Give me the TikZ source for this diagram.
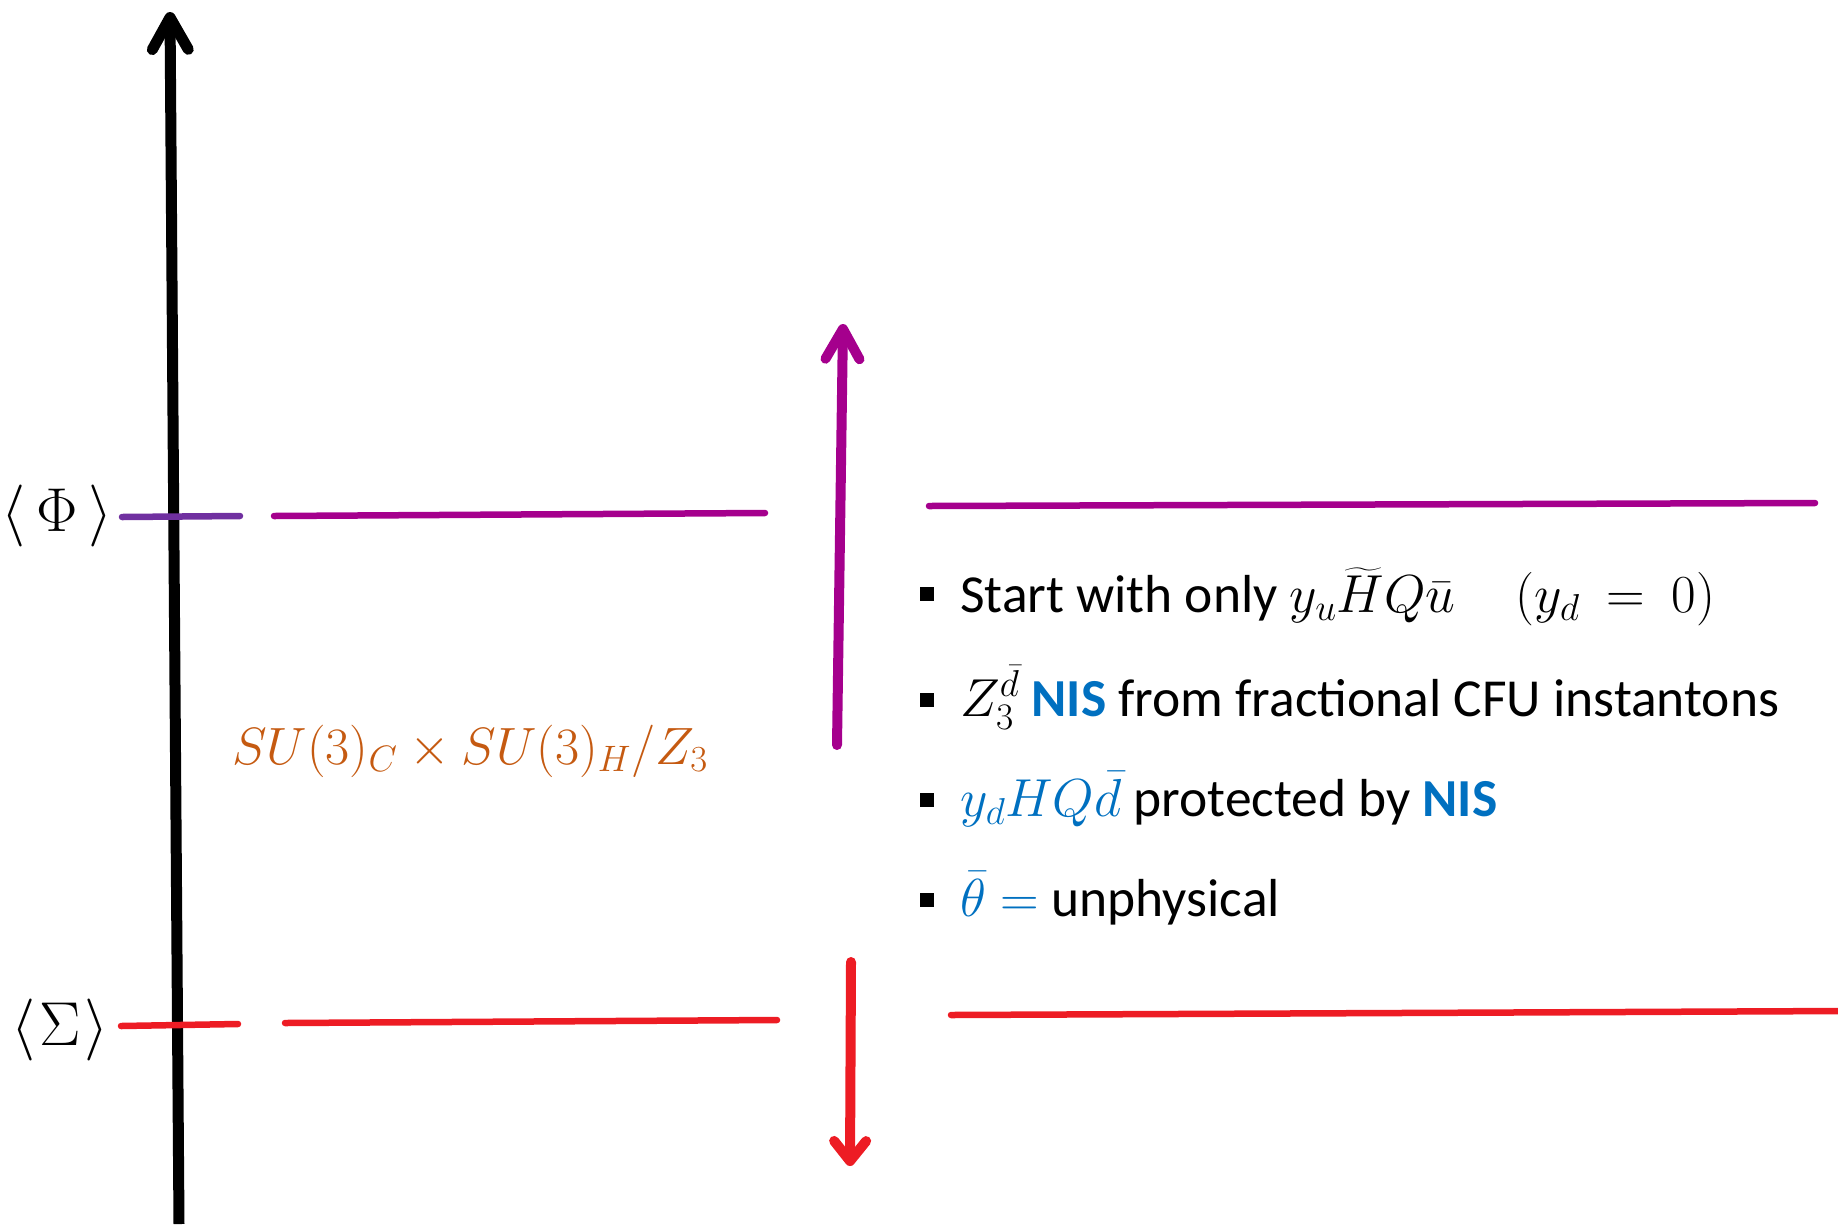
\RequirePackage{fix-cm}
\documentclass[tikz,border=0pt]{standalone}
\usepackage{amsmath}
\usepackage{fontspec}
\setmainfont{Carlito}
\usetikzlibrary{arrows.meta}
\definecolor{phipurple}{HTML}{7030A0}
\definecolor{magline}{HTML}{A5008D}
\definecolor{sred}{HTML}{ED1C24}
\definecolor{nisblue}{HTML}{0070C0}
\definecolor{suorange}{HTML}{C55A11}
\tikzset{
  level/.style={line width=6.5pt, line cap=round},
  bigarrow/.style={line width=10pt, line cap=round, -{Straight Barb[length=30pt, width=34pt, round]}},
  sqbullet/.style={rectangle, fill=black, minimum size=14pt, inner sep=0pt},
  itemtext/.style={anchor=base west, inner sep=0pt, font=\fontsize{53.5}{58}\selectfont},
  vevlabel/.style={inner sep=0pt, font=\fontsize{62}{66}\selectfont},
}
\begin{document}
\begin{tikzpicture}[x=1pt,y=-1pt]
\useasboundingbox (0,0) rectangle (1838,1224);
% vertical axis
\coordinate (axb) at (179,1224);
\coordinate (axt) at (170,12);
\draw[line width=11pt, -{Straight Barb[length=32pt, width=36pt, round]}] (axb) -- (axt);
% Phi level
\coordinate (p1a) at (122,517); \coordinate (p1b) at (240,516);
\coordinate (p2a) at (274,516); \coordinate (p2b) at (765,513);
\coordinate (p3a) at (929,506); \coordinate (p3b) at (1815,503);
\draw[level, phipurple] (p1a) -- (p1b);
\draw[level, magline] (p2a) -- (p2b);
\draw[level, magline] (p3a) -- (p3b);
% Sigma level
\coordinate (s1a) at (121,1026); \coordinate (s1b) at (238,1024);
\coordinate (s2a) at (285,1023); \coordinate (s2b) at (777,1020);
\coordinate (s3a) at (951,1015); \coordinate (s3b) at (1845,1011);
\draw[level, sred] (s1a) -- (s1b);
\draw[level, sred] (s2a) -- (s2b);
\draw[level, sred] (s3a) -- (s3b);
% arrows
\coordinate (mA) at (837,745); \coordinate (mB) at (843,324);
\draw[bigarrow, magline] (mA) -- (mB);
\coordinate (rA) at (851,962); \coordinate (rB) at (850,1166);
\draw[line width=10pt, line cap=round, sred, -{Straight Barb[length=20pt, width=32pt, round]}] (rA) -- (rB);
% labels
\node[vevlabel] (phi) at (57,516) {$\langle\mkern3mu\Phi\mkern3mu\rangle$};
\node[vevlabel] (sig) at (60,1030) {$\langle\mkern1mu\Sigma\mkern1mu\rangle$};
\node[anchor=base west, inner sep=0pt, text=suorange, font=\fontsize{52.5}{56}\selectfont] (grp) at (232,764) {$SU(3)_C\times SU(3)_H/Z_3$};
% bullets
\node[sqbullet] (b1) at (927,594) {};
\node[sqbullet] (b2) at (927,700) {};
\node[sqbullet] (b3) at (927,800) {};
\node[sqbullet] (b4) at (927,900) {};
\node[itemtext] (t1) at (960,612) {Start with only $y_u\widetilde{H}Q\bar{u}$\hspace{60pt}$(y_d\:=\:0)$};
\node[itemtext] (t2) at (960,716) {$Z_3^{\bar d}$ {\bfseries\color{nisblue}NIS} from fractional CFU instantons};
\node[itemtext] (t3) at (960,816) {{\color{nisblue}$y_dHQ\bar d$} protected by {\bfseries\color{nisblue}NIS}};
\node[itemtext] (t4) at (960,916) {{\color{nisblue}$\bar\theta=$} unphysical};
\end{tikzpicture}
\end{document}
